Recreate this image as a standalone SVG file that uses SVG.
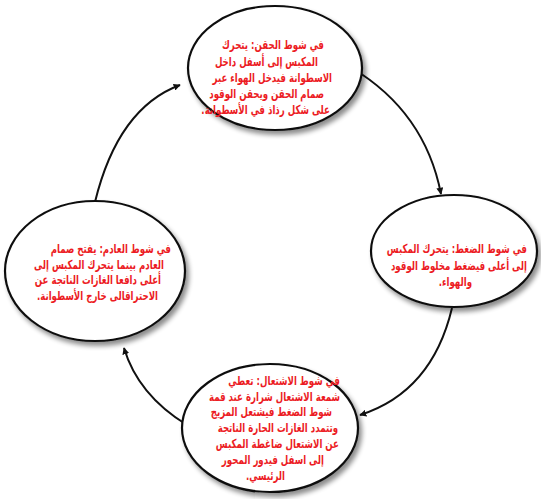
<svg xmlns="http://www.w3.org/2000/svg" width="541" height="499" viewBox="0 0 541 499">
<style>
.node ellipse{fill:#ffffff;stroke:#111111;stroke-width:2.2;filter:url(#sh)}
.node text{font-family:"DejaVu Sans","Noto Sans",sans-serif;font-weight:bold;font-size:12.5px;fill:#ec1c24;direction:rtl;text-anchor:start}
.conn path{fill:none;stroke:#111111;stroke-width:2;marker-end:url(#ah)}
</style>
<defs>
<filter id="sh" x="-20%" y="-20%" width="150%" height="150%">
<feGaussianBlur in="SourceAlpha" stdDeviation="2.5"/>
<feOffset dx="3" dy="4" result="b"/>
<feComponentTransfer><feFuncA type="linear" slope="0.45"/></feComponentTransfer>
<feMerge><feMergeNode/><feMergeNode in="SourceGraphic"/></feMerge>
</filter>
<marker id="ah" viewBox="0 0 10 10" refX="9" refY="5" markerWidth="7" markerHeight="7" markerUnits="userSpaceOnUse" orient="auto">
<path d="M0,0 L10,5 L0,10 Z" fill="#111111"/>
</marker>
</defs>
<rect width="541" height="499" fill="#ffffff"/>
<g class="conn">
<path d="M352,68 Q425,112 441,194"/>
<path d="M452,308 Q432,392 360,415"/>
<path d="M187,425 Q138,395 124,348"/>
<path d="M95,202 Q118,108 180,85"/>
</g>
<g id="intake" class="node">
<ellipse cx="275" cy="68" rx="87" ry="62"/>
<text transform="translate(324,49) scale(0.69,1)">في شوط الحقن: يتحرك</text>
<text transform="translate(318,66) scale(0.69,1)">المكبس إلى أسفل داخل</text>
<text transform="translate(332,82) scale(0.69,1)">الاسطوانة فيدخل الهواء عبر</text>
<text transform="translate(324,98) scale(0.69,1)">صمام الحقن ويحقن الوقود</text>
<text transform="translate(330,114) scale(0.69,1)">على شكل رذاذ في الأسطوانة.</text>
</g>
<g id="compression" class="node">
<ellipse cx="454" cy="251" rx="83" ry="56"/>
<text transform="translate(527,253) scale(0.69,1)">في شوط الضغط: يتحرك المكبس</text>
<text transform="translate(527,270) scale(0.69,1)">إلى أعلى فيضغط مخلوط الوقود</text>
<text transform="translate(472,286) scale(0.69,1)">والهواء.</text>
</g>
<g id="power" class="node">
<ellipse cx="270" cy="428" rx="88" ry="64"/>
<text transform="translate(340,385) scale(0.69,1)">في شوط الاشتعال: تعطي</text>
<text transform="translate(340,401) scale(0.69,1)">شمعة الاشتعال شرارة عند قمة</text>
<text transform="translate(332,416) scale(0.69,1)">شوط الضغط فيشتعل المزيج</text>
<text transform="translate(338,432) scale(0.69,1)">وتتمدد الغازات الحارة الناتجة</text>
<text transform="translate(339,448) scale(0.69,1)">عن الاشتعال ضاغطة المكبس</text>
<text transform="translate(324,464) scale(0.69,1)">إلى اسفل فيدور المحور</text>
<text transform="translate(285,480) scale(0.69,1)">الرئيسي.</text>
</g>
<g id="exhaust" class="node">
<ellipse cx="95" cy="271" rx="90" ry="70"/>
<text transform="translate(171,253) scale(0.69,1)">في شوط العادم: يفتح صمام</text>
<text transform="translate(164,269) scale(0.69,1)">العادم بينما يتحرك المكبس إلى</text>
<text transform="translate(161,284) scale(0.69,1)">أعلى دافعا الغازات الناتجة عن</text>
<text transform="translate(158,300) scale(0.69,1)">الاحتراقالى خارج الأسطوانة.</text>
</g>
</svg>
